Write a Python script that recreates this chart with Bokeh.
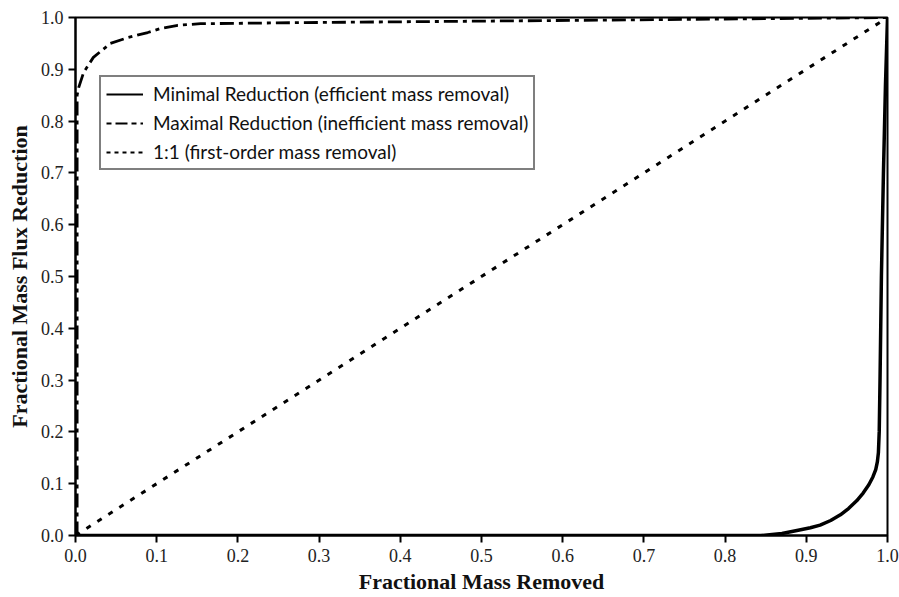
from bokeh.plotting import figure
from bokeh.models import Range1d, Legend, LegendItem, FixedTicker, CustomJSTickFormatter
from bokeh.embed import file_html
from bokeh.resources import INLINE

# Data
min_x = [0.0, 0.844, 0.87, 0.89, 0.905, 0.917, 0.93, 0.942, 0.952, 0.962, 0.97, 0.977,
         0.982, 0.9855, 0.9875, 0.9888, 0.9898, 0.9908, 0.9925, 0.995, 0.9975, 1.0]
min_y = [0.0, 0.0, 0.004, 0.01, 0.015, 0.02, 0.029, 0.04, 0.052, 0.067, 0.082, 0.098,
         0.113, 0.127, 0.142, 0.16, 0.2, 0.3, 0.5, 0.7, 0.87, 1.0]

max_x = [0.002, 0.002, 0.004, 0.01, 0.022, 0.043, 0.064, 0.089, 0.105, 0.126, 0.154, 0.27, 0.5, 0.8, 1.0]
max_y = [0.0, 0.85, 0.865, 0.894, 0.923, 0.95, 0.961, 0.971, 0.979, 0.985, 0.988, 0.99, 0.993, 0.997, 1.0]

one_x = [0.0, 1.0]
one_y = [0.0, 1.0]

ticks = [0.0, 0.1, 0.2, 0.3, 0.4, 0.5, 0.6, 0.7, 0.8, 0.9, 1.0]
labels = ["Minimal Reduction (efficient mass removal)",
          "Maximal Reduction (inefficient mass removal)",
          "1:1 (first-order mass removal)"]

p = figure(width=899, height=597, output_backend="svg", toolbar_location=None,
           x_range=Range1d(0, 1), y_range=Range1d(0, 1),
           min_border_left=75, min_border_right=12, min_border_top=17, min_border_bottom=62)
p.grid.visible = False
p.outline_line_color = "black"
p.outline_line_width = 2
p.background_fill_color = "white"
p.border_fill_color = "white"

fmt = CustomJSTickFormatter(code="return tick.toFixed(1);")
for ax in (p.xaxis[0], p.yaxis[0]):
    ax.ticker = FixedTicker(ticks=ticks)
    ax.formatter = fmt
    ax.axis_line_width = 2
    ax.axis_line_color = "black"
    ax.major_tick_line_width = 2
    ax.major_tick_out = 7
    ax.major_tick_in = 0
    ax.minor_tick_out = 0
    ax.minor_tick_in = 0
    ax.major_label_text_font = "Liberation Serif"
    ax.major_label_text_font_size = "18px"
    ax.major_label_text_color = "#222222"
    ax.axis_label_text_font = "Liberation Serif"
    ax.axis_label_text_font_style = "bold"
    ax.axis_label_text_font_size = "22px"
    ax.axis_label_text_color = "#111111"

p.xaxis.axis_label = "Fractional Mass Removed"
p.yaxis.axis_label = "Fractional Mass Flux Reduction"
p.xaxis.major_label_standoff = 6
p.xaxis.axis_label_standoff = 4
p.yaxis.major_label_standoff = 5
p.yaxis.axis_label_standoff = 6

p.line(min_x, min_y, line_color="black", line_width=3.5, line_join="round")
p.line(max_x, max_y, line_color="black", line_width=2.8, line_dash="14 5 4 5")
p.line(one_x, one_y, line_color="black", line_width=3, line_dash="5 8")

# legend keys (thinner strokes, as in the reference legend); hidden copies of the curves
k_min = p.line(min_x, min_y, line_color="black", line_width=1.8, visible=False)
k_max = p.line(max_x, max_y, line_color="black", line_width=2.2, line_dash="5 4 12 4", visible=False)
k_one = p.line(one_x, one_y, line_color="black", line_width=2.2, line_dash="4 4", visible=False)

legend = Legend(items=[LegendItem(label=labels[0], renderers=[k_min]),
                       LegendItem(label=labels[1], renderers=[k_max]),
                       LegendItem(label=labels[2], renderers=[k_one])],
                location=(24, 365))
legend.border_line_color = "black"
legend.border_line_width = 2.5
legend.background_fill_alpha = 1
legend.label_text_font = "Lato"
legend.label_text_font_size = "19px"
legend.label_text_color = "#111111"
legend.glyph_width = 37
legend.glyph_height = 20
legend.label_height = 20
legend.label_standoff = 10
legend.spacing = 6
legend.padding = 5
legend.margin = 0
p.add_layout(legend, "center")

open("out.html", "w").write(file_html(p, INLINE))
